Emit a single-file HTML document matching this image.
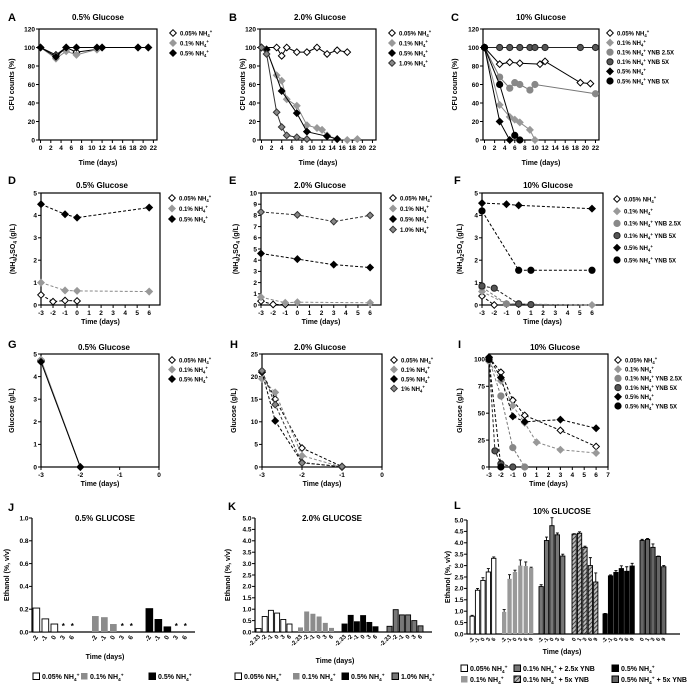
<!DOCTYPE html>
<html><head><meta charset="utf-8"><style>
html,body{margin:0;padding:0;background:#fff;}
svg{display:block;font-family:"Liberation Sans",Arial,sans-serif;font-weight:bold;}
</style></head><body>
<svg id="fig" width="700" height="687" viewBox="0 0 700 687" xmlns="http://www.w3.org/2000/svg">
<defs><pattern id="hatch" width="3" height="3" patternUnits="userSpaceOnUse" patternTransform="rotate(45)"><rect width="3" height="3" fill="#bbb"/><line x1="0" y1="0" x2="0" y2="3" stroke="#222" stroke-width="1.6"/></pattern></defs>
</svg>
<script>
// ---------- Panel A data ----------
const A_x = [0,3,5,7,11,12,19,21];
const A_005 = [100,92,100,95,98,100,100,100];
const A_01 = [100,88,96,92,98,100,100,100];
const A_05 = [100,90,100,100,100,100,100,100];
// ---------- Panel B data ----------
const B_x005 = [0,3,4,5,7,9,11,13,15,17];
const B_005 = [100,100,91,100,95,95,100,93,97,95];
const B_x01 = [0,1,3,4,5,7,9,11,12,13,15,17,19];
const B_01 = [100,97,70,64,44,37,16,13,11,5,1,0,1];
const B_x05 = [0,1,4,7,9,13,15];
const B_05 = [100,98,53,29,9,4,1];
const B_x10 = [0,1,3,4,5,7,9];
const B_10 = [100,93,30,14,5,3,1];
// ---------- Panel C data ----------
const C_x005 = [0,3,5,7,11,12,19,21];
const C_005 = [100,82,84,83,82,85,62,61];
const C_x01 = [0,3,5,6,7,9,10];
const C_01 = [100,38,25,22,19,11,0];
const C_x25 = [0,3,5,6,7,9,10,22];
const C_25 = [100,68,56,62,60,54,60,50];
const C_x5 = [0,3,5,7,9,10,12,19,22];
const C_5 = [100,100,100,100,100,100,100,100,100];
const C_x05 = [0,3,5];
const C_05 = [100,20,0];
const C_x05y = [0,3,6,7];
const C_05y = [100,60,5,0];
// ---------- Panel D data ----------
const D_x005 = [-3,-2,-1,0];
const D_005 = [0.45,0.15,0.2,0.18];
const D_x01 = [-3,-1,0,6];
const D_01 = [1.0,0.65,0.63,0.6];
const D_x05 = [-3,-1,0,6];
const D_05 = [4.5,4.05,3.9,4.35];
// ---------- Panel E data ----------
const E_x005 = [-3,-2,-1];
const E_005 = [0.35,0.05,0.05];
const E_x01 = [-3,-1,0,6];
const E_01 = [0.7,0.2,0.25,0.2];
const E_x05 = [-3,0,3,6];
const E_05 = [4.6,4.1,3.6,3.35];
const E_x10 = [-3,0,3,6];
const E_10 = [8.3,8.05,7.45,8.0];
// ---------- Panel F data ----------
const F_x005 = [-3,-2];
const F_005 = [0.4,0.0];
const F_x01 = [-3,-1,6];
const F_01 = [0.6,0.05,0.0];
const F_x25 = [-3,-1,0];
const F_25 = [0.8,0.05,0.05];
const F_x5 = [-3,-2,0,1];
const F_5 = [0.85,0.75,0.05,0.02];
const F_x05 = [-3,-1,0,6];
const F_05 = [4.55,4.5,4.45,4.3];
const F_x05y = [-3,0,1,6];
const F_05y = [4.2,1.55,1.55,1.55];
// ---------- Panel G data ----------
const G_x = [-3,-2];
const G_005 = [4.7,0];
const G_01 = [4.75,0];
const G_05 = [4.65,0];
// ---------- Panel H data ----------
const H_x = [-3,-2.67,-2,-1];
const H_005 = [21,15,4.2,0.1];
const H_01 = [19.5,16.5,2.5,0];
const H_05 = [21,10.2,1,0];
const H_10 = [21.3,13.8,0.9,0.1];
// ---------- Panel I data ----------
const I_x005 = [-3,-2,-1,0,3,6];
const I_005 = [102,88,62,48,34,19];
const I_x01 = [-3,-2,-1,0,1,3,6];
const I_01 = [98,80,57,41,23,16,13];
const I_x25 = [-3,-2,-1,0];
const I_25 = [100,66,18,0];
const I_x5 = [-3,-2.5,-2,-1];
const I_5 = [100,15,3,0];
const I_x05 = [-3,-2,-1,0,3,6];
const I_05 = [102,83,47,42,44,36];
const I_x05y = [-3,-2];
const I_05y = [100,0];
// ---------- Panel J data ----------
const J_labels = ["-2","-1","0","3","6"];
const J_g1 = [0.21,0.115,0.07,null,null];
const J_g2 = [0.14,0.13,0.07,null,null];
const J_g3 = [0.205,0.11,0.045,null,null];
const J_yticks = [0,0.2,0.4,0.6,0.8,1.0];
// ---------- Panel K data ----------
const K_labels = ["-2.33","-2","-1","0","3","6"];
const K_g1 = [0.15,0.68,0.95,0.83,0.55,0.35];
const K_g2 = [0.2,0.9,0.8,0.68,0.4,0.18];
const K_g3 = [0.35,0.73,0.45,0.72,0.42,0.23];
const K_g4 = [0.25,0.98,0.75,0.75,0.5,0.27];
const K_yticks = [0,0.5,1,1.5,2,2.5,3,3.5,4,4.5,5];
// ---------- Panel L data ----------
const L_lab1 = ["-2","-1","0","3","6"];
const L_lab2 = ["-2","-1","0","3","6","9"];
const L_lab4 = ["0","1","3","6","9"];
const L_g1 = [0.78,1.92,2.35,2.72,3.32];
const L_e1 = [0.04,0.08,0.12,0.15,0.06];
const L_g2 = [0.97,2.42,2.72,3.0,2.98,2.9];
const L_e2 = [0.1,0.18,0.08,0.25,0.18,0.03];
const L_g3 = [2.08,4.1,4.75,4.35,3.42];
const L_e3 = [0.08,0.15,0.35,0.08,0.08];
const L_g4 = [4.38,4.42,3.8,3.0,2.28];
const L_e4 = [0.02,0.06,0.05,0.35,0.4];
const L_g5 = [0.88,2.55,2.7,2.87,2.75,2.98];
const L_e5 = [0.02,0.04,0.08,0.12,0.2,0.12];
const L_g6 = [4.1,4.15,3.8,3.4,2.95];
const L_e6 = [0.05,0.04,0.15,0.02,0.05];
const L_yticks = [0,0.5,1,1.5,2,2.5,3,3.5,4,4.5,5];

const svg = document.getElementById('fig');
const NS = 'http://www.w3.org/2000/svg';
function mk(tag, parent, attrs){
  const e = document.createElementNS(NS, tag);
  for (const k in attrs) e.setAttribute(k, attrs[k]);
  parent.appendChild(e);
  return e;
}
function txt(parent, x, y, s, size, anchor){
  const t = mk('text', parent, {x:x, y:y, 'font-size':size, 'text-anchor':anchor||'start'});
  const parts = s.split('NH4+');
  parts.forEach((p,i)=>{
    if (p) { const ts = mk('tspan', t, {}); ts.textContent = p; }
    if (i < parts.length-1){
      const a = mk('tspan', t, {}); a.textContent = 'NH';
      const b = mk('tspan', t, {'font-size':size*0.7, dy:size*0.25}); b.textContent = '4';
      const c = mk('tspan', t, {'font-size':size*0.7, dy:-size*0.6}); c.textContent = '+';
      const d = mk('tspan', t, {dy:size*0.35}); d.textContent = '\u200B';
    }
  });
  return t;
}
function marker(g, type, x, y, fill, stroke){
  let m;
  if (type === 'd') m = mk('polygon', g, {points:`${x},${y-3.3} ${x+3.3},${y} ${x},${y+3.3} ${x-3.3},${y}`, fill:fill, stroke:stroke, 'stroke-width':1});
  else m = mk('circle', g, {cx:x, cy:y, r:3.1, fill:fill, stroke:stroke, 'stroke-width':1});
  return m;
}

const S = {
  open:{m:'d', fill:'#fff', stroke:'#000', line:'#000'},
  lgray:{m:'d', fill:'#999', stroke:'#999', line:'#888'},
  black:{m:'d', fill:'#000', stroke:'#000', line:'#000'},
  dgrayD:{m:'d', fill:'#888', stroke:'#333', line:'#333'},
  midC:{m:'c', fill:'#888', stroke:'#888', line:'#777'},
  darkC:{m:'c', fill:'#555', stroke:'#222', line:'#222'},
  blackC:{m:'c', fill:'#000', stroke:'#000', line:'#000'}
};

function linePanel(c){
  const g = mk('g', svg, {});
  
  
  const sx = v => c.L + (v - c.xd[0]) / (c.xd[1]-c.xd[0]) * (c.R - c.L);
  const sy = v => c.B - (v - c.yd[0]) / (c.yd[1]-c.yd[0]) * (c.B - c.T);
  const fr = mk('rect', g, {x:c.L, y:c.T, width:c.R-c.L, height:c.B-c.T, fill:'none', stroke:'#000', 'stroke-width':1.2});
  
  
  c.xt.forEach(v=>{
    mk('line', g, {x1:sx(v), x2:sx(v), y1:c.B, y2:c.B+3, stroke:'#000'});
    const t = txt(g, sx(v), c.B+10, String(v), 6.5, 'middle');
    
    
  });
  c.yt.forEach(v=>{
    mk('line', g, {x1:c.L-3, x2:c.L, y1:sy(v), y2:sy(v), stroke:'#000'});
    const t = txt(g, c.L-4, sy(v)+2.3, String(v), 6.5, 'end');
    
    
  });
  const lt = txt(g, c.lx, c.ly, c.letter, 11, 'start');
  
  
  const tt = txt(g, c.tx, c.ty, c.title, 8, 'middle');
  
  
  const xl = txt(g, (c.L+c.R)/2, c.xly, 'Time (days)', 7, 'middle');
  
  
  const yl = mk('text', g, {x:0, y:0, 'font-size':7, 'text-anchor':'middle', transform:`translate(${c.ylx},${(c.T+c.B)/2}) rotate(-90)`});
  
  
  if (c.ytitle === 'SO4'){
    const a = mk('tspan', yl, {}); a.textContent = '(NH';
    const b = mk('tspan', yl, {'font-size':5, dy:2}); b.textContent = '4';
    const d = mk('tspan', yl, {dy:-2}); d.textContent = ')';
    const e = mk('tspan', yl, {'font-size':5, dy:2}); e.textContent = '2';
    const f = mk('tspan', yl, {dy:-2}); f.textContent = 'SO';
    const h = mk('tspan', yl, {'font-size':5, dy:2}); h.textContent = '4';
    const i = mk('tspan', yl, {dy:-2}); i.textContent = ' (g/L)';
  } else yl.textContent = c.ytitle;
  c.series.forEach((s, si)=>{
    const st = S[s.st];
    const sg = mk('g', g, {});
    
    
    const pts = s.x.map((xv,i)=>`${sx(xv)},${sy(s.y[i])}`).join(' ');
    const pl = mk('polyline', sg, {points:pts, fill:'none', stroke:st.line, 'stroke-width':1, 'stroke-dasharray':c.dash?'3,2':'none'});
    
    
    s.x.forEach((xv,i)=>{
      const m = marker(sg, st.m, sx(xv), sy(s.y[i]), st.fill, st.stroke);
      
      
    });
    const ly = c.legY + si*c.legDy;
    const lg = mk('g', g, {});
    
    
    marker(lg, st.m, c.legX, ly, st.fill, st.stroke);
    txt(lg, c.legX+7, ly+2.3, s.label, 6, 'start');
  });
}

const xt22 = [0,2,4,6,8,10,12,14,16,18,20,22];
const y120 = [0,20,40,60,80,100,120];
linePanel({name:'panel-a', L:39,R:157,T:29,B:140,xd:[-0.3,22.7],yd:[0,120],xt:xt22,yt:y120,letter:'A',lx:8,ly:21,title:'0.5% Glucose',tx:98,ty:20,xly:165,ylx:14,ytitle:'CFU counts (%)',dash:false,legX:173,legY:33,legDy:10,
 series:[{label:'0.05% NH4+',st:'open',x:A_x,y:A_005},{label:'0.1% NH4+',st:'lgray',x:A_x,y:A_01},{label:'0.5% NH4+',st:'black',x:A_x,y:A_05}]});
linePanel({name:'panel-b', L:260,R:376,T:29,B:140,xd:[-0.3,22.7],yd:[0,120],xt:xt22,yt:y120,letter:'B',lx:229,ly:21,title:'2.0% Glucose',tx:320,ty:20,xly:165,ylx:245,ytitle:'CFU counts (%)',dash:false,legX:392,legY:33,legDy:10,
 series:[{label:'0.05% NH4+',st:'open',x:B_x005,y:B_005},{label:'0.1% NH4+',st:'lgray',x:B_x01,y:B_01},{label:'0.5% NH4+',st:'black',x:B_x05,y:B_05},{label:'1.0% NH4+',st:'dgrayD',x:B_x10,y:B_10}]});
linePanel({name:'panel-c', L:483,R:599,T:29,B:140,xd:[-0.3,22.7],yd:[0,120],xt:xt22,yt:y120,letter:'C',lx:451,ly:21,title:'10% Glucose',tx:541,ty:20,xly:165,ylx:457,ytitle:'CFU counts (%)',dash:false,legX:610,legY:33,legDy:9.6,
 series:[{label:'0.05% NH4+',st:'open',x:C_x005,y:C_005},{label:'0.1% NH4+',st:'lgray',x:C_x01,y:C_01},{label:'0.1% NH4+ YNB 2.5X',st:'midC',x:C_x25,y:C_25},{label:'0.1% NH4+ YNB 5X',st:'darkC',x:C_x5,y:C_5},{label:'0.5% NH4+',st:'black',x:C_x05,y:C_05},{label:'0.5% NH4+ YNB 5X',st:'blackC',x:C_x05y,y:C_05y}]});

const xt6 = [-3,-2,-1,0,1,2,3,4,5,6];
linePanel({name:'panel-d', L:41,R:160,T:193,B:305,xd:[-3,6.9],yd:[0,5],xt:xt6,yt:[0,1,2,3,4,5],letter:'D',lx:8,ly:184,title:'0.5% Glucose',tx:102,ty:188,xly:324,ylx:15,ytitle:'SO4',dash:true,legX:172,legY:198,legDy:10.5,
 series:[{label:'0.05% NH4+',st:'open',x:D_x005,y:D_005},{label:'0.1% NH4+',st:'lgray',x:D_x01,y:D_01},{label:'0.5% NH4+',st:'black',x:D_x05,y:D_05}]});
linePanel({name:'panel-e', L:261,R:381,T:193,B:305,xd:[-3,6.9],yd:[0,10],xt:xt6,yt:[0,1,2,3,4,5,6,7,8,9,10],letter:'E',lx:229,ly:184,title:'2.0% Glucose',tx:320,ty:188,xly:324,ylx:238,ytitle:'SO4',dash:true,legX:393,legY:198,legDy:10.5,
 series:[{label:'0.05% NH4+',st:'open',x:E_x005,y:E_005},{label:'0.1% NH4+',st:'lgray',x:E_x01,y:E_01},{label:'0.5% NH4+',st:'black',x:E_x05,y:E_05},{label:'1.0% NH4+',st:'dgrayD',x:E_x10,y:E_10}]});
linePanel({name:'panel-f', L:482,R:603,T:193,B:305,xd:[-3,6.9],yd:[0,5],xt:xt6,yt:[0,1,2,3,4,5],letter:'F',lx:454,ly:184,title:'10% Glucose',tx:548,ty:188,xly:324,ylx:462,ytitle:'SO4',dash:true,legX:617,legY:199,legDy:12.2,
 series:[{label:'0.05% NH4+',st:'open',x:F_x005,y:F_005},{label:'0.1% NH4+',st:'lgray',x:F_x01,y:F_01},{label:'0.1% NH4+ YNB 2.5X',st:'midC',x:F_x25,y:F_25},{label:'0.1% NH4+ YNB 5X',st:'darkC',x:F_x5,y:F_5},{label:'0.5% NH4+',st:'black',x:F_x05,y:F_05},{label:'0.5% NH4+ YNB 5X',st:'blackC',x:F_x05y,y:F_05y}]});

linePanel({name:'panel-g', L:41,R:159,T:354,B:467,xd:[-3,0],yd:[0,5],xt:[-3,-2,-1,0],yt:[0,1,2,3,4,5],letter:'G',lx:8,ly:348,title:'0.5% Glucose',tx:104,ty:350,xly:486,ylx:14,ytitle:'Glucose (g/L)',dash:false,legX:172,legY:360,legDy:9.5,
 series:[{label:'0.05% NH4+',st:'open',x:G_x,y:G_005},{label:'0.1% NH4+',st:'lgray',x:G_x,y:G_01},{label:'0.5% NH4+',st:'black',x:G_x,y:G_05}]});
linePanel({name:'panel-h', L:262,R:382,T:354,B:467,xd:[-3,0],yd:[0,25],xt:[-3,-2,-1,0],yt:[0,5,10,15,20,25],letter:'H',lx:230,ly:348,title:'2.0% Glucose',tx:320,ty:350,xly:486,ylx:236,ytitle:'Glucose (g/L)',dash:true,legX:394,legY:360,legDy:9.5,
 series:[{label:'0.05% NH4+',st:'open',x:H_x,y:H_005},{label:'0.1% NH4+',st:'lgray',x:H_x,y:H_01},{label:'0.5% NH4+',st:'black',x:H_x,y:H_05},{label:'1% NH4+',st:'dgrayD',x:H_x,y:H_10}]});
linePanel({name:'panel-i', L:489,R:608,T:354,B:467,xd:[-3,7],yd:[0,105],xt:[-3,-2,-1,0,1,2,3,4,5,6,7],yt:[0,25,50,75,100],letter:'I',lx:458,ly:348,title:'10% Glucose',tx:555,ty:350,xly:486,ylx:462,ytitle:'Glucose (g/L)',dash:true,legX:618,legY:360,legDy:9.2,
 series:[{label:'0.05% NH4+',st:'open',x:I_x005,y:I_005},{label:'0.1% NH4+',st:'lgray',x:I_x01,y:I_01},{label:'0.1% NH4+ YNB 2.5X',st:'midC',x:I_x25,y:I_25},{label:'0.1% NH4+ YNB 5X',st:'darkC',x:I_x5,y:I_5},{label:'0.5% NH4+',st:'black',x:I_x05,y:I_05},{label:'0.5% NH4+ YNB 5X',st:'blackC',x:I_x05y,y:I_05y}]});

function barPanel(c){
  const g = mk('g', svg, {});
  
  
  const sy = v => c.B - v / c.ymax * (c.B - c.T);
  const ya = mk('line', g, {x1:c.L, x2:c.L, y1:c.T, y2:c.B, stroke:'#000', 'stroke-width':1.2});
  
  
  const xa = mk('line', g, {x1:c.L, x2:c.R, y1:c.B, y2:c.B, stroke:'#000', 'stroke-width':1.2});
  
  
  c.yt.forEach(v=>{
    mk('line', g, {x1:c.L-3, x2:c.L, y1:sy(v), y2:sy(v), stroke:'#000'});
    const t = txt(g, c.L-3.5, sy(v)+2.3, v.toFixed(1), 6.5, 'end');
    
    
  });
  c.groups.forEach(gr=>{
    const bg = mk('g', g, {});
    
    
    gr.v.forEach((v,i)=>{
      const x = gr.x + i*c.step;
      if (v === null){
        const st = txt(bg, x + c.w/2, c.B - 3, '*', 8, 'middle');
        
        
      } else {
        const r = mk('rect', bg, {x:x, y:sy(v), width:c.w, height:c.B - sy(v), fill:gr.fill, stroke:gr.stroke, 'stroke-width':gr.stroke==='none'?0:0.9});
        
        
        if (gr.e){
          const ey = sy(v + gr.e[i]);
          const eb = mk('path', bg, {d:`M${x+c.w/2},${sy(v)}V${ey}M${x+c.w/2-1.5},${ey}H${x+c.w/2+1.5}`, stroke:'#000', 'stroke-width':0.9, fill:'none'});
          
          
        }
      }
      const lx = x + c.w/2 + 2, ly = c.B + 5;
      const tl = mk('text', bg, {x:0, y:0, 'font-size':c.tfs, 'text-anchor':'end', transform:`translate(${lx},${ly}) rotate(${c.rot})`});
      tl.textContent = gr.lab[i];
      
      
    });
  });
  const lt = txt(g, c.lx, c.ly, c.letter, 11, 'start');
  
  
  const tt = txt(g, c.tx, c.ty, c.title, 8, 'middle');
  
  
  const xl = txt(g, c.xlx, c.xly, 'Time (days)', 7, 'middle');
  
  
  const yl = mk('text', g, {x:0, y:0, 'font-size':7, 'text-anchor':'middle', transform:`translate(${c.ylx},${(c.T+c.B)/2}) rotate(-90)`});
  yl.textContent = 'Ethanol (%, v/v)';
  
  
  c.leg.forEach(l=>{
    const lg = mk('g', g, {});
    
    
    mk('rect', lg, {x:l.x, y:l.y-6, width:6.5, height:6.5, fill:l.fill, stroke:l.stroke, 'stroke-width':l.stroke==='none'?0:1});
    txt(lg, l.x+9, l.y, l.t, 7, 'start');
  });
}

barPanel({name:'panel-j', L:32,R:195,T:518,B:632,ymax:1.0,yt:J_yticks,step:9,w:6.7,rot:-60,tfs:6.5,
 groups:[{x:33,v:J_g1,lab:J_labels,fill:'#fff',stroke:'#000'},{x:92,v:J_g2,lab:J_labels,fill:'#8c8c8c',stroke:'none'},{x:146,v:J_g3,lab:J_labels,fill:'#000',stroke:'#000'}],
 letter:'J',lx:8,ly:511,title:'0.5%  GLUCOSE',tx:105,ty:521,xlx:105,xly:659,ylx:9,
 leg:[{x:33,y:679,fill:'#fff',stroke:'#000',t:'0.05% NH4+'},{x:81,y:679,fill:'#8c8c8c',stroke:'none',t:'0.1% NH4+'},{x:149,y:679,fill:'#000',stroke:'#000',t:'0.5% NH4+'}]});
barPanel({name:'panel-k', L:255,R:432,T:518,B:632,ymax:5,yt:K_yticks,step:6.2,w:5,rot:-45,tfs:6,
 groups:[{x:256,v:K_g1,lab:K_labels,fill:'#fff',stroke:'#000'},{x:298,v:K_g2,lab:K_labels,fill:'#8c8c8c',stroke:'none'},{x:342,v:K_g3,lab:K_labels,fill:'#000',stroke:'#000'},{x:387,v:K_g4,lab:K_labels,fill:'#777',stroke:'#000'}],
 letter:'K',lx:228,ly:510,title:'2.0%  GLUCOSE',tx:332,ty:521,xlx:335,xly:663,ylx:230,
 leg:[{x:235,y:679,fill:'#fff',stroke:'#000',t:'0.05% NH4+'},{x:293,y:679,fill:'#8c8c8c',stroke:'none',t:'0.1% NH4+'},{x:342,y:679,fill:'#000',stroke:'#000',t:'0.5% NH4+'},{x:392,y:679,fill:'#777',stroke:'#000',t:'1.0% NH4+'}]});
barPanel({name:'panel-l', L:467,R:680,T:520,B:634,ymax:5,yt:L_yticks,step:5.4,w:4.3,rot:-60,tfs:5.5,
 groups:[{x:470,v:L_g1,e:L_e1,lab:L_lab1,fill:'#fff',stroke:'#000'},{x:502,v:L_g2,e:L_e2,lab:L_lab2,fill:'#999',stroke:'none'},{x:539,v:L_g3,e:L_e3,lab:L_lab1,fill:'#777',stroke:'#000'},{x:572,v:L_g4,e:L_e4,lab:L_lab4,fill:'url(#hatch)',stroke:'#000'},{x:603,v:L_g5,e:L_e5,lab:L_lab2,fill:'#000',stroke:'#000'},{x:640,v:L_g6,e:L_e6,lab:L_lab4,fill:'#666',stroke:'#000'}],
 letter:'L',lx:454,ly:509,title:'10% GLUCOSE',tx:562,ty:514,xlx:562,xly:654,ylx:450,
 leg:[{x:461,y:671,fill:'#fff',stroke:'#000',t:'0.05% NH4+'},{x:514,y:671,fill:'#777',stroke:'#000',t:'0.1% NH4+ + 2.5x YNB'},{x:612,y:671,fill:'#000',stroke:'#000',t:'0.5% NH4+'},
      {x:461,y:682,fill:'#999',stroke:'none',t:'0.1% NH4+'},{x:514,y:682,fill:'url(#hatch)',stroke:'#000',t:'0.1% NH4+ + 5x YNB'},{x:612,y:682,fill:'#666',stroke:'#000',t:'0.5% NH4+ + 5x YNB'}]});
</script>
</body></html>
